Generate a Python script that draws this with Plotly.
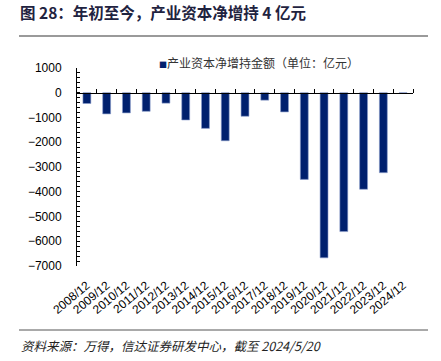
import plotly.graph_objects as go

categories = ["2008/12", "2009/12", "2010/12", "2011/12", "2012/12", "2013/12",
              "2014/12", "2015/12", "2016/12", "2017/12", "2018/12", "2019/12",
              "2020/12", "2021/12", "2022/12", "2023/12", "2024/12"]
net_increase = [-435, -855, -815, -750, -420, -1100, -1440, -1940, -950, -300,
                -775, -3500, -6670, -5610, -3900, -3230, 4]
y_ticks = [1000, 0, -1000, -2000, -3000, -4000, -5000, -6000, -7000]

W, H = 441, 361
L, R, T, B = 77, 28, 68, 95
pw, ph = W - L - R, H - T - B


def px(xp):
    return (xp - L) / pw


def py(yp):
    return (H - B - yp) / ph


NAVY = "#00206E"
CJK = "Noto Sans CJK SC"
LAT = "Liberation Sans, Arial"

fig = go.Figure()
fig.add_trace(go.Bar(
    x=categories, y=net_increase,
    marker=dict(color=NAVY, line=dict(color="#8A9CCB", width=0.6)),
    showlegend=False, name="产业资本净增持金额",
))
# helper trace so the zero-line axis exists
fig.add_trace(go.Scatter(x=[None], y=[None], xaxis="x2", showlegend=False,
                         hoverinfo="skip"))

ymin, ymax = y_ticks[-1], y_ticks[0]
zero_pos = (0 - ymin) / (ymax - ymin)
n = len(categories)

fig.update_layout(
    width=W, height=H,
    margin=dict(l=L, r=R, t=T, b=B, pad=0, autoexpand=False),
    paper_bgcolor="white", plot_bgcolor="white",
    bargap=0.6,
    title=dict(
        text="<b>图 28：年初至今，产业资本净增持 4 亿元</b>",
        font=dict(family=CJK, size=15.5, color="#1F2340"),
        xref="container", yref="container",
        x=20 / W, y=1 - 14 / H, xanchor="left", yanchor="middle",
        automargin=False,
    ),
    xaxis=dict(
        type="category", range=[-0.5, n - 0.5], automargin=False,
        showline=False, ticks="", showgrid=False, zeroline=False,
        tickangle=-40, tickfont=dict(family=LAT, size=12, color="black"),
        ticklabelstandoff=9,
    ),
    xaxis2=dict(
        overlaying="x", anchor="free", position=zero_pos, side="top",
        range=[-0.5, n - 0.5], showline=True, linecolor="black", linewidth=1,
        ticks="outside", ticklen=4, tickcolor="black", automargin=False,
        tickvals=[i + 0.5 for i in range(n)],
        showticklabels=False, showgrid=False, zeroline=False,
    ),
    yaxis=dict(
        range=[ymin, ymax], tickvals=y_ticks, automargin=False,
        showline=True, linecolor="black", linewidth=1,
        ticks="inside", ticklen=3, tickcolor="black",
        minor=dict(dtick=200, ticks="inside", ticklen=3, tickcolor="black"),
        showgrid=False, zeroline=False,
        tickfont=dict(family=LAT, size=12, color="black"),
        ticklabelstandoff=12,
    ),
    shapes=[
        dict(type="line", xref="paper", yref="paper",
             x0=px(19), x1=px(428), y0=py(36), y1=py(36),
             line=dict(color="#9A9A9A", width=2)),
        dict(type="line", xref="paper", yref="paper",
             x0=px(19), x1=px(428), y0=py(330), y1=py(330),
             line=dict(color="#555555", width=1)),
    ],
    annotations=[
        dict(xref="paper", yref="paper", x=px(157), y=py(62),
             xanchor="left", yanchor="middle", showarrow=False,
             text=f"<span style='color:{NAVY};font-size:8px'>■</span>产业资本净增持金额（单位：亿元）",
             font=dict(family=CJK, size=12, color="#333333")),
        dict(xref="paper", yref="paper", x=px(19), y=py(345),
             xanchor="left", yanchor="middle", showarrow=False,
             text="<i>资料来源：万得，信达证券研发中心，截至 2024/5/20</i>",
             font=dict(family=CJK, size=12.5, color="#222222")),
    ],
)

fig.write_html("out.html", config={"displayModeBar": False},
               post_script="document.body.style.margin='0';document.body.style.overflow='hidden';")
